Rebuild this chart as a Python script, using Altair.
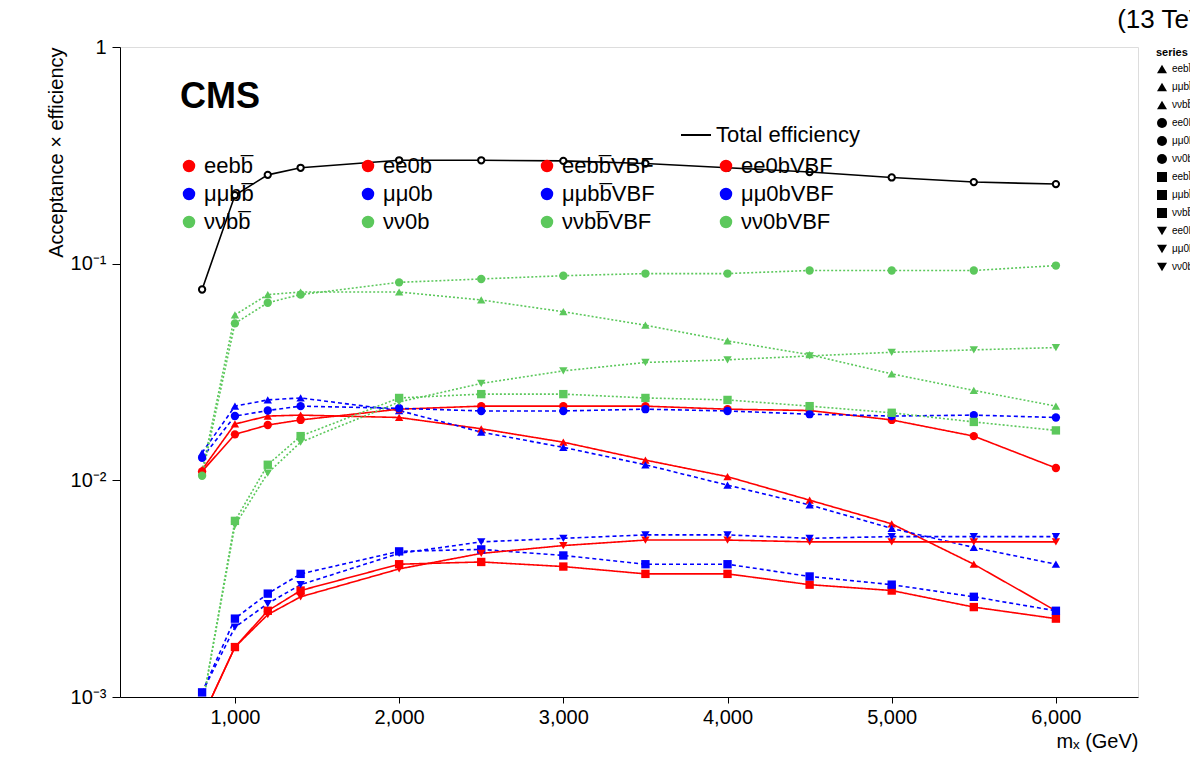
import pandas as pd
import altair as alt

masses = [800, 1000, 1200, 1400, 2000, 2500, 3000, 3500, 4000, 4500, 5000, 5500, 6000]

total = [0.076, 0.207, 0.257, 0.277, 0.30, 0.30, 0.298, 0.29, 0.277, 0.265, 0.25, 0.238, 0.233]

series_names = [
    "eebb\u0305", "\u03bc\u03bcbb\u0305", "\u03bd\u03bdbb\u0305", "ee0b",
    "\u03bc\u03bc0b", "\u03bd\u03bd0b", "eebb\u0305VBF", "\u03bc\u03bcbb\u0305VBF",
    "\u03bd\u03bdbb\u0305VBF", "ee0bVBF", "\u03bc\u03bc0bVBF", "\u03bd\u03bd0bVBF",
]

eebb = [0.0112, 0.0182, 0.0198, 0.020, 0.0195, 0.0173, 0.015, 0.0124, 0.0104, 0.0081, 0.0063, 0.0041, 0.0025]
mmbb = [0.0134, 0.022, 0.0235, 0.024, 0.021, 0.0167, 0.0142, 0.0118, 0.0095, 0.0077, 0.006, 0.0049, 0.0041]
nnbb = [0.011, 0.058, 0.072, 0.074, 0.074, 0.068, 0.060, 0.052, 0.044, 0.038, 0.031, 0.026, 0.022]
ee0b = [0.011, 0.0163, 0.018, 0.019, 0.0213, 0.022, 0.022, 0.022, 0.0213, 0.021, 0.019, 0.016, 0.0114]
mm0b = [0.0127, 0.0198, 0.021, 0.022, 0.0215, 0.0209, 0.0209, 0.0213, 0.0209, 0.0202, 0.0198, 0.020, 0.0195]
nn0b = [0.0105, 0.053, 0.066, 0.072, 0.082, 0.085, 0.088, 0.090, 0.090, 0.093, 0.093, 0.093, 0.098]
eebbvbf = [0.0008, 0.0017, 0.0025, 0.0031, 0.0041, 0.0042, 0.0040, 0.0037, 0.0037, 0.0033, 0.0031, 0.0026, 0.0023]
mmbbvbf = [0.00105, 0.0023, 0.0030, 0.0037, 0.0047, 0.0048, 0.0045, 0.0041, 0.0041, 0.0036, 0.0033, 0.0029, 0.0025]
nnbbvbf = [0.0009, 0.0065, 0.0118, 0.016, 0.024, 0.025, 0.025, 0.024, 0.0235, 0.022, 0.0205, 0.0186, 0.017]
ee0bvbf = [0.0008, 0.0017, 0.0024, 0.0029, 0.0039, 0.0046, 0.0050, 0.0053, 0.0053, 0.0052, 0.0052, 0.0052, 0.0052]
mm0bvbf = [0.00105, 0.0021, 0.0027, 0.0033, 0.0046, 0.0052, 0.0054, 0.0056, 0.0056, 0.0054, 0.0055, 0.0055, 0.0055]
nn0bvbf = [0.0009, 0.0062, 0.0108, 0.015, 0.023, 0.028, 0.032, 0.035, 0.036, 0.0375, 0.039, 0.040, 0.041]

all_series = [eebb, mmbb, nnbb, ee0b, mm0b, nn0b, eebbvbf, mmbbvbf, nnbbvbf, ee0bvbf, mm0bvbf, nn0bvbf]

red, blue, green = "#ff0000", "#0000ff", "#5cc85c"
colors = [red, blue, green] * 4
shapes = (["triangle-up"] * 3 + ["circle"] * 3 + ["square"] * 3 + ["triangle-down"] * 3)
dashes = [[1, 0], [4, 3], [2, 2]] * 4

rows = []
for name, vals in zip(series_names, all_series):
    for m, v in zip(masses, vals):
        rows.append({"mass": m, "eff": v, "series": name})
df = pd.DataFrame(rows)
tot = pd.DataFrame({"mass": masses, "eff": total, "label": "Total efficiency"})

font = "Liberation Sans"
xscale = alt.Scale(domain=[300, 6500], nice=False)
yscale = alt.Scale(type="log", domain=[0.001, 1], nice=False)

xenc = alt.X("mass:Q", scale=xscale, title="m\u2093 (GeV)",
             axis=alt.Axis(values=[1000, 2000, 3000, 4000, 5000, 6000], grid=False,
                           titleAnchor="end", titleAlign="right", titleFontSize=20,
                           titleFontWeight="normal", labelFontSize=20, tickSize=6,
                           labelPadding=4, domainColor="black", tickColor="black",
                           labelColor="black", titleColor="black"))
yenc = alt.Y("eff:Q", scale=yscale, title="Acceptance \u00d7 efficiency",
             axis=alt.Axis(values=[0.001, 0.01, 0.1, 1], grid=False,
                           labelExpr="datum.value >= 1 ? '1' : datum.value >= 0.1 ? '10\u207b\u00b9' : datum.value >= 0.01 ? '10\u207b\u00b2' : '10\u207b\u00b3'",
                           titleAnchor="end", titleFontSize=20, titleFontWeight="normal",
                           labelFontSize=20, tickSize=8, labelPadding=6,
                           domainColor="black", tickColor="black",
                           labelColor="black", titleColor="black"))

lines = alt.Chart(df).mark_line(point={"filled": True, "size": 70}, strokeWidth=1.6, clip=True).encode(
    x=xenc, y=yenc,
    color=alt.Color("series:N", sort=series_names,
                    scale=alt.Scale(domain=series_names, range=colors),
                    legend=alt.Legend(orient="none", legendX=58, legendY=108, columns=4,
                                      title=None, labelFontSize=22, labelFont=font,
                                      symbolSize=110, columnPadding=60, rowPadding=6,
                                      gridAlign="all", labelLimit=300, symbolStrokeWidth=2,
                                      labelColor="black")),
    shape=alt.Shape("series:N", sort=series_names,
                    scale=alt.Scale(domain=series_names, range=shapes)),
    strokeDash=alt.StrokeDash("series:N", sort=series_names,
                              scale=alt.Scale(domain=series_names, range=dashes)),
)

totline = alt.Chart(tot).mark_line(point={"filled": False, "fill": "white", "size": 40},
                                   color="black", strokeWidth=1.6).encode(
    x="mass:Q", y="eff:Q",
    color=alt.Color("label:N", scale=alt.Scale(range=["black"]),
                    legend=alt.Legend(orient="none", legendX=560, legendY=72, title=None,
                                      labelFontSize=22, labelFont=font, symbolType="stroke",
                                      symbolSize=900, symbolStrokeWidth=2,
                                      labelColor="black")),
)

cms = alt.Chart(pd.DataFrame({"t": ["CMS"]})).mark_text(
    font=font, fontSize=36, fontWeight="bold", align="left", baseline="middle", color="black"
).encode(text="t:N", x=alt.value(60), y=alt.value(50))

chart = alt.layer(totline, lines, cms).resolve_scale(
    color="independent"
).properties(
    width=1018, height=650,
    padding={"left": 112, "top": 39, "right": 52, "bottom": 69},
    autosize="none",
    title=alt.TitleParams("(13 TeV)", anchor="end", fontSize=26, font=font,
                          fontWeight="normal", offset=4, color="black"),
).configure_view(stroke="black", strokeWidth=1.5).configure(font=font)

chart.save("out.html", embed_options={"renderer": "svg", "actions": False})
